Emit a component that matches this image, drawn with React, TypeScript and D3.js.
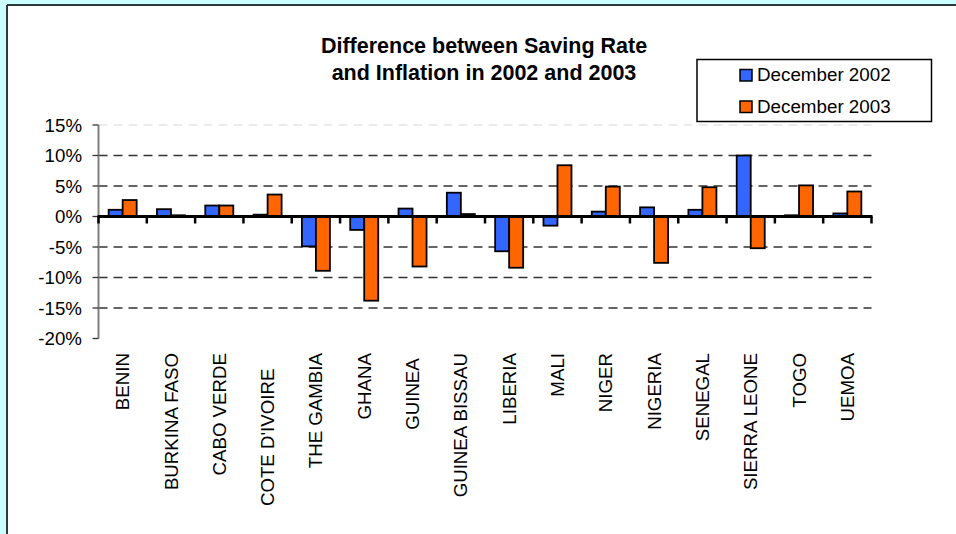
import React from "react";
import * as d3 from "d3";

const categories = [
  "BENIN",
  "BURKINA FASO",
  "CABO VERDE",
  "COTE D'IVOIRE\u00A0\u00A0\u00A0",
  "THE GAMBIA",
  "GHANA",
  "GUINEA\u00A0",
  "GUINEA BISSAU",
  "LIBERIA",
  "MALI",
  "NIGER",
  "NIGERIA",
  "SENEGAL",
  "SIERRA LEONE",
  "TOGO",
  "UEMOA",
];
const dec2002 = [1.1, 1.2, 1.8, 0.3, -4.9, -2.2, 1.3, 3.9, -5.7, -1.5, 0.8, 1.5, 1.1, 10.0, 0.2, 0.5];
const dec2003 = [2.7, 0.2, 1.8, 3.6, -8.9, -13.8, -8.2, 0.4, -8.4, 8.4, 4.9, -7.6, 4.8, -5.2, 5.1, 4.1];
const seriesNames = ["December 2002", "December 2003"];
const seriesColors = ["#3366FF", "#FF6600"];
const yTicks = [15, 10, 5, 0, -5, -10, -15, -20];
const titleLines = ["Difference between Saving Rate", "and Inflation in 2002 and 2003"];

const W = 956;
const H = 534;
const FONT = "'Liberation Sans', Arial, sans-serif";

export default function App() {
  const plotLeft = 98.5;
  const plotRight = 871.5;
  const y = d3.scaleLinear().domain([-20, 15]).range([338.5, 125]);
  const x = d3.scaleBand<string>().domain(categories).range([plotLeft, plotRight]).padding(0);
  const bw = x.bandwidth();
  const inner = d3
    .scaleBand<string>()
    .domain(seriesNames)
    .range([bw * 0.21, bw * 0.79])
    .padding(0);
  const series = [dec2002, dec2003];
  const y0 = y(0);

  return (
    <svg
      width={W}
      height={H}
      style={{ position: "absolute", left: 0, top: 0, display: "block" }}
      fontFamily={FONT}
    >
      <rect x={0} y={0} width={W} height={H} fill="#CCFFFF" />
      <rect x={8} y={6} width={W} height={H} fill="#FFFFFF" />
      <line x1={7} y1={5} x2={W} y2={5} stroke="#2b3a3a" strokeWidth={2} />
      <line x1={7} y1={5} x2={7} y2={H} stroke="#2b3a3a" strokeWidth={2} />

      {/* title */}
      {titleLines.map((t, i) => (
        <text
          key={t}
          x={484}
          y={53 + i * 27}
          textAnchor="middle"
          fontWeight="bold"
          fontSize={21.5}
          fill="#000"
        >
          {t}
        </text>
      ))}

      {/* gridlines */}
      {yTicks
        .filter((v) => v !== 0 && v !== -20)
        .map((v) => (
          <line
            key={"g" + v}
            x1={plotLeft}
            x2={plotRight}
            y1={y(v)}
            y2={y(v)}
            stroke={v === 15 ? "#e6e6e6" : "#333"}
            strokeWidth={1.3}
            strokeDasharray="9,6"
          />
        ))}

      {/* y axis */}
      <line x1={plotLeft} x2={plotLeft} y1={y(15)} y2={y(-20)} stroke="#808080" strokeWidth={2} />
      {yTicks.map((v) => (
        <g key={"t" + v}>
          <line x1={plotLeft - 6} x2={plotLeft} y1={y(v)} y2={y(v)} stroke="#333" strokeWidth={1.3} />
          <text
            x={82}
            y={y(v)}
            dy="0.35em"
            textAnchor="end"
            fontSize={18.7}
            fill="#000"
          >
            {v + "%"}
          </text>
        </g>
      ))}

      {/* bars */}
      {series.map((vals, si) =>
        vals.map((v, i) => {
          const bx = (x(categories[i]) as number) + (inner(seriesNames[si]) as number);
          const top = Math.min(y(v), y0);
          const h = Math.abs(y(v) - y0);
          return (
            <rect
              key={si + "-" + i}
              x={bx}
              y={top}
              width={inner.bandwidth()}
              height={h}
              fill={seriesColors[si]}
              stroke="#000"
              strokeWidth={1.8}
            />
          );
        })
      )}

      {/* zero line + category ticks */}
      <line x1={plotLeft - 1} x2={plotRight + 1} y1={y0} y2={y0} stroke="#000" strokeWidth={3} />
      {categories.map((c) => (
        <line
          key={"ct" + c}
          x1={x(c) as number}
          x2={x(c) as number}
          y1={y0}
          y2={y0 + 7}
          stroke="#000"
          strokeWidth={2.5}
        />
      ))}
      <line x1={plotRight} x2={plotRight} y1={y0} y2={y0 + 7} stroke="#000" strokeWidth={2.5} />

      {/* category labels */}
      {categories.map((c) => {
        const cx = (x(c) as number) + bw / 2;
        return (
          <text
            key={"l" + c}
            transform={`translate(${cx},353) rotate(-90)`}
            dy="0.35em"
            textAnchor="end"
            fontSize={18.7}
            fill="#000"
            style={{ whiteSpace: "pre" }}
          >
            {c}
          </text>
        );
      })}

      {/* legend */}
      <rect x={697} y={59.5} width={234.5} height={62} fill="#fff" stroke="#000" strokeWidth={1.5} />
      {seriesNames.map((s, i) => (
        <g key={"lg" + s}>
          <rect
            x={740}
            y={69.5 + i * 31.5}
            width={12}
            height={11.5}
            fill={seriesColors[i]}
            stroke="#000"
            strokeWidth={1.5}
          />
          <text x={757} y={81 + i * 31.5} fontSize={18.8} fill="#000">
            {s}
          </text>
        </g>
      ))}
    </svg>
  );
}
